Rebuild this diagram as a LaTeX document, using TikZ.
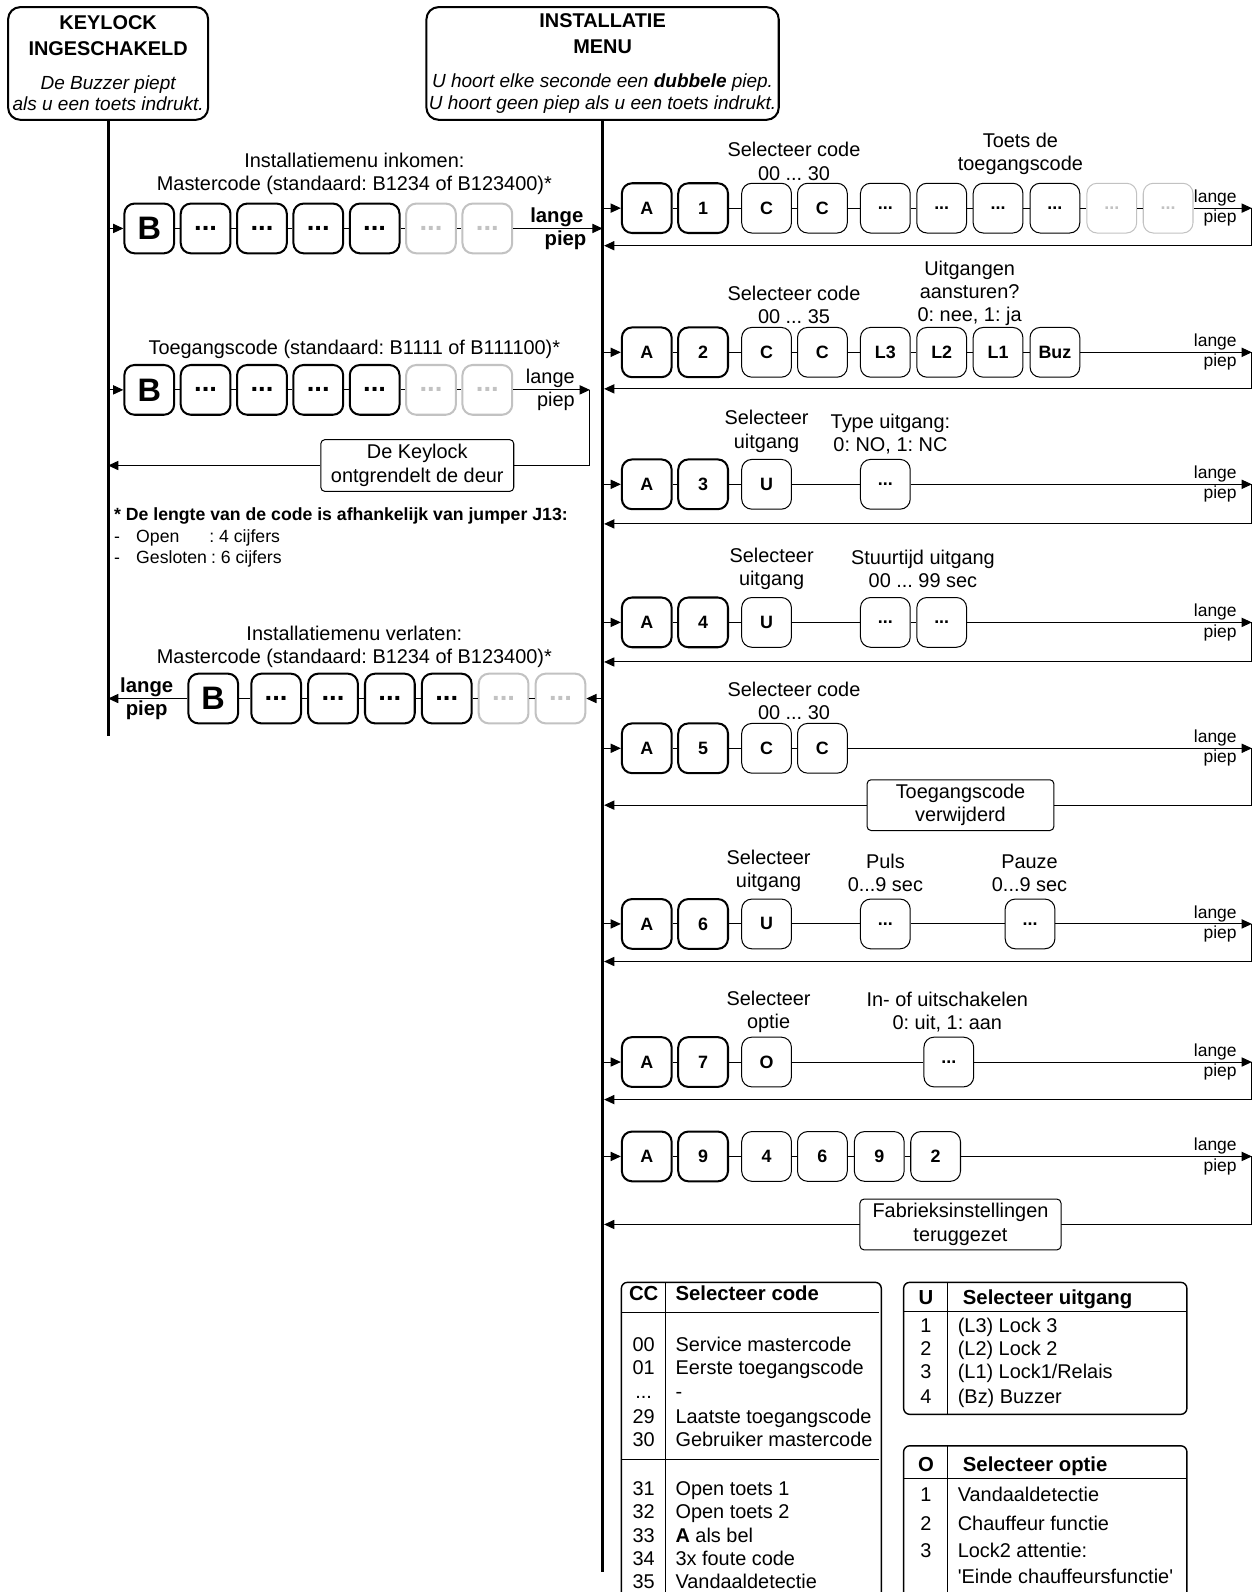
\documentclass[tikz,border=0pt]{standalone}
\usepackage{fontspec}
\setmainfont{Liberation Sans}
\usetikzlibrary{arrows.meta,positioning}
\definecolor{keygray}{HTML}{C2C2C2}
\newcommand\kdots{...}
\frenchspacing

\begin{document}
\begin{tikzpicture}[x=0.5pt,y=-0.5pt,
    font=\fontsize{9.8}{11.5}\selectfont,
    hdr/.style={draw,line width=1pt,rounded corners=6pt,align=center,inner sep=0pt,minimum height=55.5pt},
    spine/.style={line width=1.6pt},
    cn/.style={line width=0.5pt},
    arr/.style={cn,-{Triangle[length=5pt,width=4.5pt]}},
    key/.style={draw,fill=white,rounded corners=5pt,minimum width=24.5pt,minimum height=24.5pt,inner sep=0pt,font=\bfseries\fontsize{8.8}{10}\selectfont},
    kb/.style={key,line width=1pt},
    kt/.style={key,line width=0.5pt},
    kg/.style={kt,draw=keygray,text=keygray},
    lk/.style={kb,font=\bfseries\fontsize{13.5}{14}\selectfont},
    lkb/.style={kb,font=\bfseries\fontsize{16}{16}\selectfont},
    lkg/.style={lk,draw=keygray,text=keygray},
    msg/.style={draw,fill=white,line width=0.5pt,rounded corners=2pt,align=center,inner sep=0pt,minimum height=25pt},
    lbl/.style={align=center,inner sep=0pt},
    lp/.style={inner sep=0.8pt,font=\fontsize{8.6}{10}\selectfont},
    lpn/.style={inner sep=0.8pt},
    lpb/.style={inner sep=0.8pt,font=\bfseries},
    tb/.style={line width=0.7pt,rounded corners=3pt},
    tl/.style={line width=0.5pt},
    cell/.style={inner sep=0pt,anchor=base west},
    num/.style={inner sep=0pt,anchor=base}]

\useasboundingbox (0,0) rectangle (1240,1568);

% headers and the two time lines
\node[hdr,minimum width=98.5pt] (keylock) at (106.5,62.5) {\textbf{KEYLOCK}\\[1pt]\textbf{INGESCHAKELD}\\[5.5pt]{\itshape\fontsize{9.35}{11}\selectfont De Buzzer piept}\\[-1pt]{\itshape\fontsize{9.35}{11}\selectfont als u een toets indrukt.}};
\node[hdr,minimum width=173.5pt] (menu) at (593.5,62.5) {\textbf{INSTALLATIE}\\[1pt]\textbf{MENU}\\[5.5pt]{\itshape\fontsize{9.35}{11}\selectfont U hoort elke seconde een \textbf{dubbele} piep.}\\[-1pt]{\itshape\fontsize{9.35}{11}\selectfont U hoort geen piep als u een toets indrukt.}};
\coordinate (kend) at (106.5,725);
\coordinate (mend) at (593.5,1548);
\draw[spine] (keylock) -- (kend);
\draw[spine] (menu) -- (mend);

% installatiemenu inkomen
\node[lbl] (inT) at (349,171) {Installatiemenu inkomen:\\Mastercode (standaard: B1234 of B123400)*};
\foreach \i/\x/\s/\t in {1/147/lkb/B,2/202.5/lk/\kdots,3/258/lk/\kdots,4/313.5/lk/\kdots,5/369/lk/\kdots,6/424.5/lkg/\kdots,7/480/lkg/\kdots}
  \node[\s] (in\i) at (\x,225) {\t};
\foreach \i [remember=\i as \p (initially 1)] in {2,...,7}
  \draw[cn] (in\p) -- (in\i);
\coordinate (inE) at (menu.south |- in7);
\draw[arr] (keylock.south |- in1) -- (in1);
\draw[arr] (in7) -- (inE);
\node[lpb,anchor=south east] (inL) at ([xshift=-8.5pt]inE) {lange};
\node[lpb,anchor=north east] (inP) at ([xshift=-7pt]inE) {piep};

% toegangscode
\node[lbl] (tgT) at (349,344) {Toegangscode (standaard: B1111 of B111100)*};
\foreach \i/\x/\s/\t in {1/147/lkb/B,2/202.5/lk/\kdots,3/258/lk/\kdots,4/313.5/lk/\kdots,5/369/lk/\kdots,6/424.5/lkg/\kdots,7/480/lkg/\kdots}
  \node[\s] (tg\i) at (\x,384) {\t};
\foreach \i [remember=\i as \p (initially 1)] in {2,...,7}
  \draw[cn] (tg\p) -- (tg\i);
\coordinate (tgE) at (581,384);
\draw[arr] (keylock.south |- tg1) -- (tg1);
\draw[arr] (tg7) -- (tgE);
\node[lpn,anchor=south east] (tgL) at ([xshift=-6.5pt]tgE) {lange};
\node[lpn,anchor=north east] (tgP) at ([xshift=-6.5pt]tgE) {piep};
\node[msg,minimum width=95pt,minimum height=25.5pt] (tgM) at (411,458.5) {De Keylock\\ontgrendelt de deur};
\draw[cn] (tgE) |- (tgM.east);
\draw[arr] (tgM.west) -- (keylock.south |- tgM);

\node[anchor=north west,align=left,inner sep=0pt,font=\fontsize{8.7}{10.5}\selectfont] (fnote) at (112,500)
  {\textbf{* De lengte van de code is afhankelijk van jumper J13:}\\
   -\hspace{8pt}\makebox[36pt][l]{Open}: 4 cijfers\\
   -\hspace{8pt}Gesloten\hspace{2pt}: 6 cijfers};

% installatiemenu verlaten
\node[lbl] (exT) at (349,637) {Installatiemenu verlaten:\\Mastercode (standaard: B1234 of B123400)*};
\foreach \i/\x/\s/\t in {1/210/lkb/B,2/272/lk/\kdots,3/328/lk/\kdots,4/384/lk/\kdots,5/440/lk/\kdots,6/496/lkg/\kdots,7/552/lkg/\kdots}
  \node[\s] (ex\i) at (\x,688) {\t};
\foreach \i [remember=\i as \p (initially 1)] in {2,...,7}
  \draw[cn] (ex\p) -- (ex\i);
\coordinate (exE) at (keylock.south |- ex1);
\draw[arr] (menu.south |- ex7) -- (ex7);
\draw[arr] (ex1) -- (exE);
\node[lpb,anchor=south] (exL) at ([xshift=19pt]exE) {lange};
\node[lpb,anchor=north] (exP) at ([xshift=19pt]exE) {piep};

% A1
\foreach \i/\x/\s/\t in {1/637/kb/A,2/692.5/kb/1,3/755/kt/C,4/810/kt/C,5/872/kt/\kdots,6/927.5/kt/\kdots,7/983/kt/\kdots,8/1039/kt/\kdots,9/1095/kg/\kdots,10/1150.5/kg/\kdots}
  \node[\s] (a1-\i) at (\x,205) {\t};
\node[lbl] (a1c) at (782,159) {Selecteer code\\00 ... 30};
\node[lbl] (a1t) at (1005,151.5) {Toets de\\toegangscode};

% A2
\foreach \i/\x/\s/\t in {1/637/kb/A,2/692.5/kb/2,3/755/kt/C,4/810/kt/C,5/872/kt/L3,6/927.5/kt/L2,7/983/kt/L1,8/1039/kt/Buz}
  \node[\s] (a2-\i) at (\x,347) {\t};
\node[lbl] (a2c) at (782,300.5) {Selecteer code\\00 ... 35};
\node[lbl] (a2u) at (955,289) {Uitgangen\\aansturen?\\0: nee, 1: ja};

% A3
\foreach \i/\x/\s/\t in {1/637/kb/A,2/692.5/kb/3,3/755/kt/U,4/872/kt/\kdots}
  \node[\s] (a3-\i) at (\x,477) {\t};
\node[lbl] (a3u) at (755,425) {Selecteer\\uitgang};
\node[lbl] (a3t) at (877,427.5) {Type uitgang:\\0: NO, 1: NC};

% A4
\foreach \i/\x/\s/\t in {1/637/kb/A,2/692.5/kb/4,3/755/kt/U,4/872/kt/\kdots,5/927.5/kt/\kdots}
  \node[\s] (a4-\i) at (\x,613) {\t};
\node[lbl] (a4u) at (760,560.5) {Selecteer\\uitgang};
\node[lbl] (a4s) at (909,560.5) {Stuurtijd uitgang\\00 ... 99 sec};

% A5
\foreach \i/\x/\s/\t in {1/637/kb/A,2/692.5/kb/5,3/755/kt/C,4/810/kt/C}
  \node[\s] (a5-\i) at (\x,737) {\t};
\node[lbl] (a5c) at (782,690) {Selecteer code\\00 ... 30};

% A6
\foreach \i/\x/\s/\t in {1/637/kb/A,2/692.5/kb/6,3/755/kt/U,4/872/kt/\kdots,5/1014.5/kt/\kdots}
  \node[\s] (a6-\i) at (\x,910) {\t};
\node[lbl] (a6u) at (757,857.5) {Selecteer\\uitgang};
\node[lbl] (a6p) at (872,860) {Puls\\0...9 sec};
\node[lbl] (a6z) at (1014,860) {Pauze\\0...9 sec};

% A7
\foreach \i/\x/\s/\t in {1/637/kb/A,2/692.5/kb/7,3/755/kt/O,4/934.5/kt/\kdots}
  \node[\s] (a7-\i) at (\x,1046) {\t};
\node[lbl] (a7o) at (757,996.5) {Selecteer\\optie};
\node[lbl] (a7s) at (933,996.5) {In- of uitschakelen\\0: uit, 1: aan};

% A9
\foreach \i/\x/\s/\t in {1/637/kb/A,2/692.5/kb/9,3/755/kt/4,4/810/kt/6,5/866/kt/9,6/921.5/kt/2}
  \node[\s] (a9-\i) at (\x,1139) {\t};

% connectors, lange piep and the way back to the menu
\foreach \r/\y/\b/\n in {a1/205/242/10,a2/347/383/8,a3/477/516/4,a4/613/652/5,a5/737/793/4,a6/910/947/5,a7/1046/1083/4,a9/1139/1206/6} {
  \foreach \i [remember=\i as \p (initially 1)] in {2,...,\n}
    \draw[cn] (\r-\p) -- (\r-\i);
  \coordinate (\r-e) at (1233,\y);
  \coordinate (\r-b) at (595,\b);
  \draw[arr] (menu.south |- \r-1) -- (\r-1);
  \draw[arr] (\r-\n) -- (\r-e);
  \draw[arr] (\r-e) |- (\r-b);
  \node[lp,anchor=south east] (\r-l) at ([xshift=-6.5pt]\r-e) {lange};
  \node[lp,anchor=north east] (\r-p) at ([xshift=-6.5pt]\r-e) {piep};
}
\node[msg,minimum width=92pt] (a5m) at (946,793) {Toegangscode\\verwijderd};
\node[msg,minimum width=99pt] (a9m) at (946,1206) {Fabrieksinstellingen\\teruggezet};

% tabel CC
\draw[tb] (612,1590) -- (612,1263) -- (868,1263) -- (868,1590);
\draw[tl] (612,1293) -- (866,1293);
\draw[tl] (612,1437) -- (866,1437);
\draw[tl] (655,1263) -- (655,1590);
\node[num,font=\bfseries] (ccH) at (634,1281) {CC};
\node[cell,font=\bfseries] (ccS) at (665,1281) {Selecteer code};
\foreach \y/\n/\t [count=\i] in {1324/00/Service mastercode,1347/01/Eerste toegangscode,1370/\kdots/-,1395/29/Laatste toegangscode,1418/30/Gebruiker mastercode,1466/31/Open toets 1,1489/32/Open toets 2,1512/33/\textbf{A} als bel,1535/34/3x foute code,1558/35/Vandaaldetectie} {
  \node[num] (ccn\i) at (634,\y+7) {\n};
  \node[cell] (cct\i) at (665,\y+7) {\t};
}

% tabel U
\draw[tb] (890,1263) rectangle (1169,1393);
\draw[tl] (890,1292) -- (1169,1292);
\draw[tl] (933,1263) -- (933,1393);
\node[num,font=\bfseries] (uH) at (912,1285) {U};
\node[cell,font=\bfseries] (uS) at (948,1285) {Selecteer uitgang};
\foreach \y/\n/\t [count=\i] in {1305/1/(L3) Lock 3,1328/2/(L2) Lock 2,1351/3/{(L1) Lock1/Relais},1375/4/(Bz) Buzzer} {
  \node[num] (un\i) at (912,\y+7) {\n};
  \node[cell] (ut\i) at (943,\y+7) {\t};
}

% tabel O
\draw[tb] (890,1590) -- (890,1424) -- (1169,1424) -- (1169,1590);
\draw[tl] (890,1456) -- (1169,1456);
\draw[tl] (933,1424) -- (933,1590);
\node[num,font=\bfseries] (oH) at (912,1449) {O};
\node[cell,font=\bfseries] (oS) at (948,1449) {Selecteer optie};
\foreach \y/\n/\t [count=\i] in {1472/1/Vandaaldetectie,1500/2/Chauffeur functie,1527/3/Lock2 attentie:,1553/{}/\textquotesingle Einde chauffeursfunctie\textquotesingle} {
  \node[num] (on\i) at (912,\y+7) {\n};
  \node[cell] (ot\i) at (943,\y+7) {\t};
}
\end{tikzpicture}
\end{document}
